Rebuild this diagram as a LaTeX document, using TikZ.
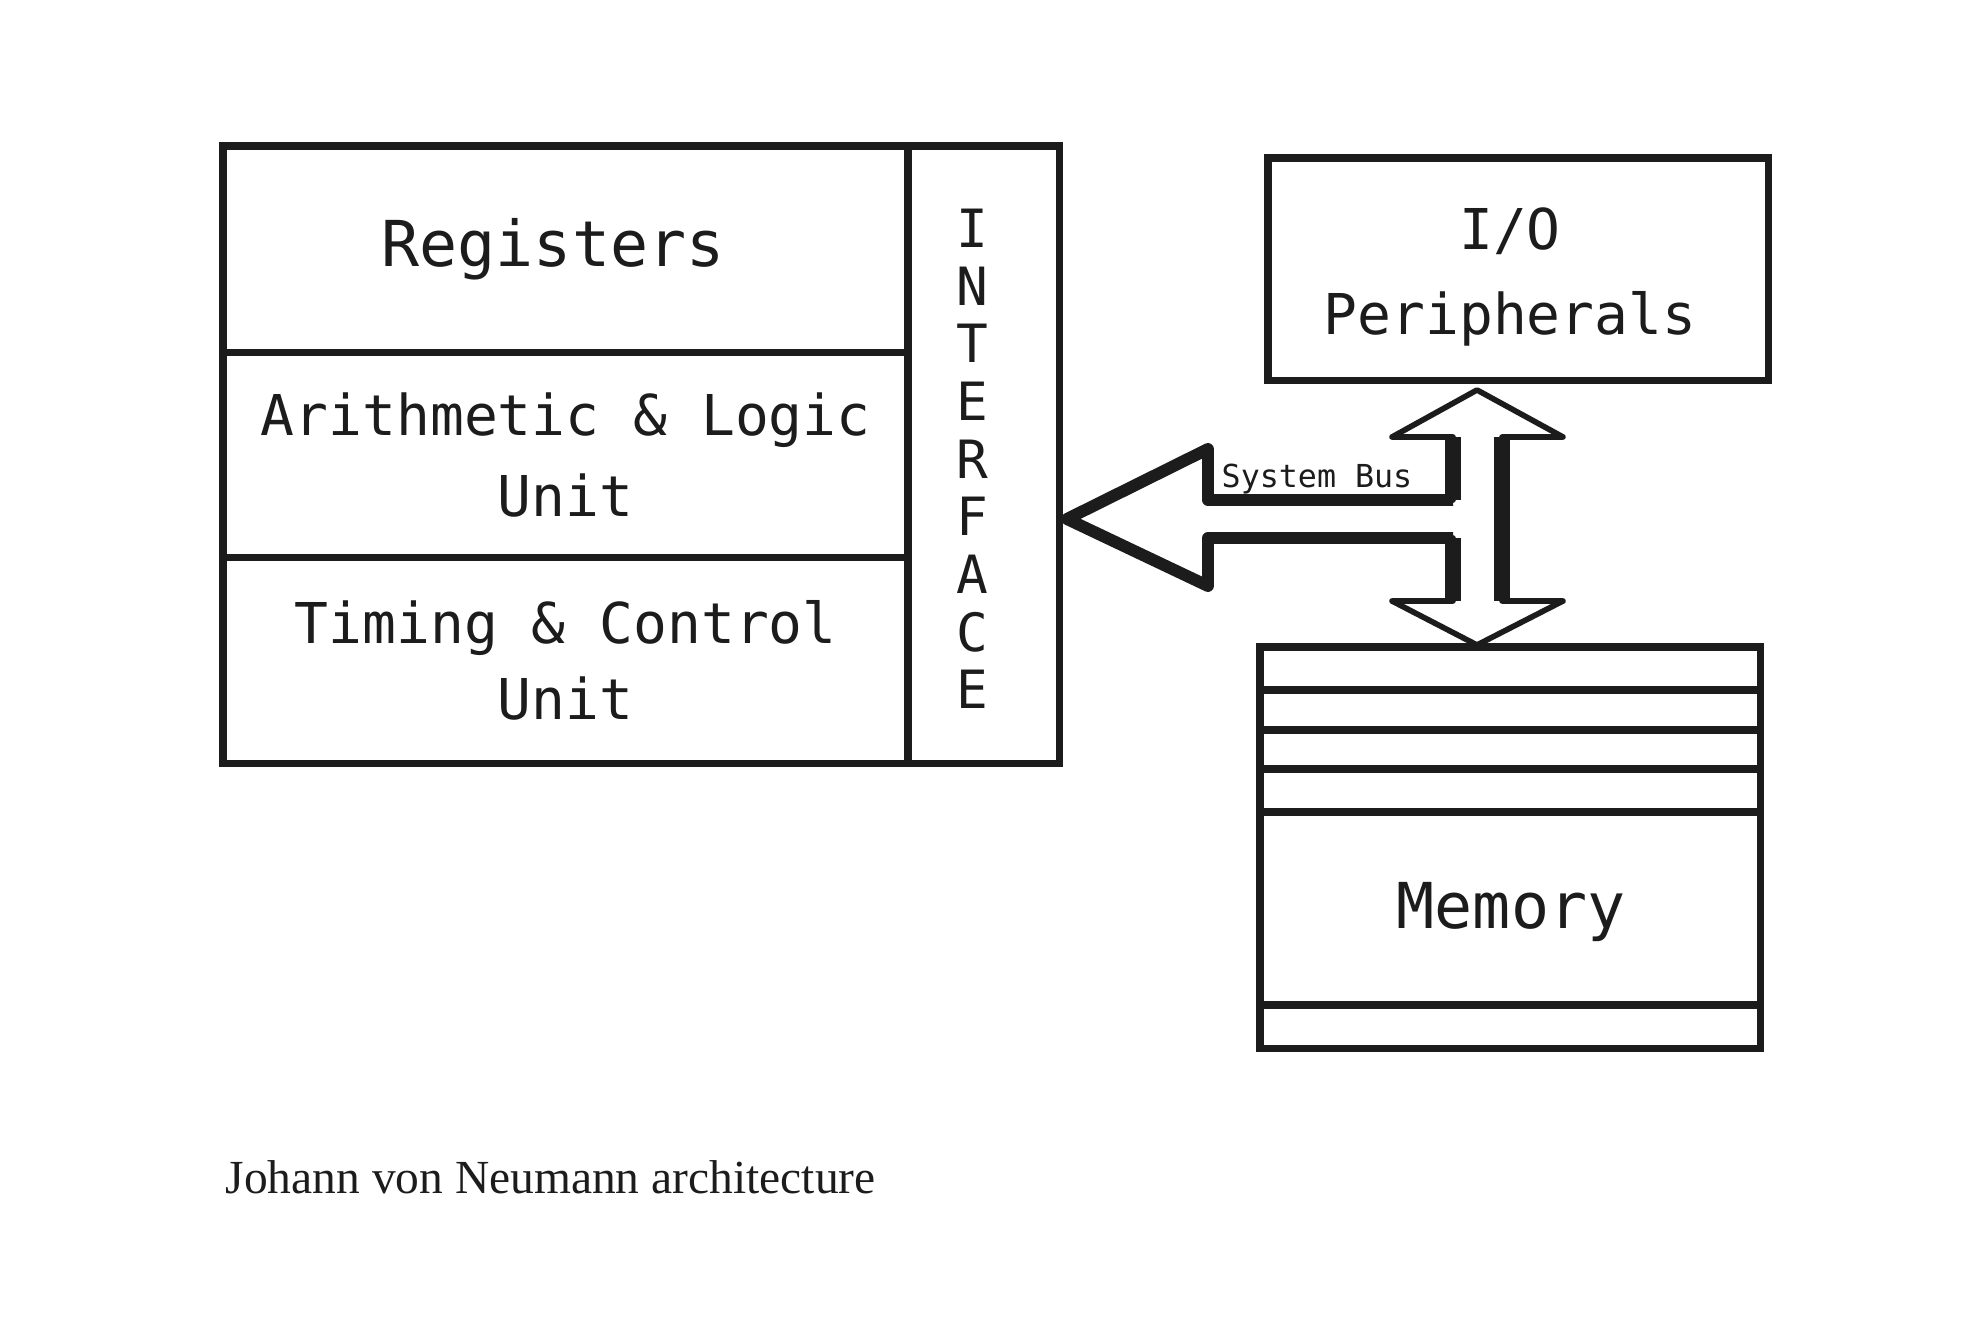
\documentclass[tikz,border=0pt]{standalone}
\usepackage{fontspec}
\setmainfont{Liberation Serif}
\newfontfamily\monofont{DejaVu Sans Mono}
\definecolor{inkblack}{HTML}{1C1C1C}
\usepackage{tikz}
\usetikzlibrary{positioning}
\tikzset{
	unitnode/.style={
			rectangle,
			draw=inkblack,
			text=inkblack,
			line width=2pt,
			anchor=north west,
			inner sep=0pt,
			outer sep=0pt,
			align=center,
			font=\monofont\fontsize{16}{23}\selectfont
		},
	labelnode/.style={
			text=inkblack,
			align=center,
			inner sep=0pt
		},
	busline/.style={
			draw=inkblack,
			line width=1.6pt,
			line join=round
		},
	busthick/.style={
			busline,
			line width=3.4pt
		},
	stripline/.style={
			draw=inkblack,
			line width=2pt
		}
}

\begin{document}
\begin{tikzpicture}[x=0.01cm, y=-0.01cm]
\useasboundingbox (0,0) rectangle (1984,1325);

% processor
\node[unitnode, minimum width=6.85cm, minimum height=2.06cm] (regs) at (223,146) {};
\node[labelnode, font=\monofont\fontsize{18}{22}\selectfont] (regstext) at (553,249) {Registers};
\node[unitnode, minimum width=6.85cm, minimum height=2.05cm, below=0pt of regs] (alu) {Arithmetic \& Logic\\Unit};
\node[unitnode, minimum width=6.85cm, minimum height=2.06cm, below=0pt of alu, font=\monofont\fontsize{16}{21.6}\selectfont] (tcu) {Timing \& Control\\Unit};
\node[unitnode, minimum width=1.51cm, minimum height=6.17cm] (iface) at (908,146) {};
\node[labelnode, font=\monofont\fontsize{15}{16.4}\selectfont] (ifacetext) at (972,459) {I\\N\\T\\E\\R\\F\\A\\C\\E};

% i/o and memory
\node[unitnode, minimum width=5cm, minimum height=2.22cm] (io) at (1268,158) {};
\node[labelnode, font=\monofont\fontsize{16}{24}\selectfont] (iotext) at (1510,277) {I/O\\Peripherals};
\node[unitnode, minimum width=5cm, minimum height=4.01cm] (mem) at (1260,647) {};
\foreach \y in {690,730,769,812,1005}
	\draw[stripline] (1260,\y) -- (1760,\y);
\node[labelnode, font=\monofont\fontsize{18}{22}\selectfont] (memtext) at (1511,912) {Memory};

% system bus
\coordinate (bustop) at (1477,390);
\coordinate (busbot) at (1477,645);
\coordinate (bustip) at (1067,519);
\draw[busline] (bustop) -- (1563,437) -- (1502,437) -- (1502,601) -- (1563,601) -- (busbot)
	-- (1392,601) -- (1453,601) -- (1453,538) -- (1208,538) -- (1208,586) -- (bustip)
	-- (1208,449) -- (1208,500) -- (1453,500) -- (1453,437) -- (1392,437) -- cycle;
\draw[busthick] (1453,538) -- (1208,538) -- (1208,586) -- (bustip) -- (1208,449) -- (1208,500) -- (1453,500);
\draw[busline, line width=4.5pt] (1453,437) -- (1453,500);
\draw[busline, line width=4.5pt] (1453,538) -- (1453,601);
\draw[busline, line width=4.5pt] (1502,437) -- (1502,601);
\node[text=inkblack, anchor=base, font=\monofont\fontsize{9}{11}\selectfont] (buslabel) at (1317,488) {System Bus};

% caption
\node[text=inkblack, anchor=base west, inner sep=0pt, font=\fontsize{13.5}{16}\selectfont] (caption) at (225,1193) {Johann von Neumann architecture};
\end{tikzpicture}
\end{document}
